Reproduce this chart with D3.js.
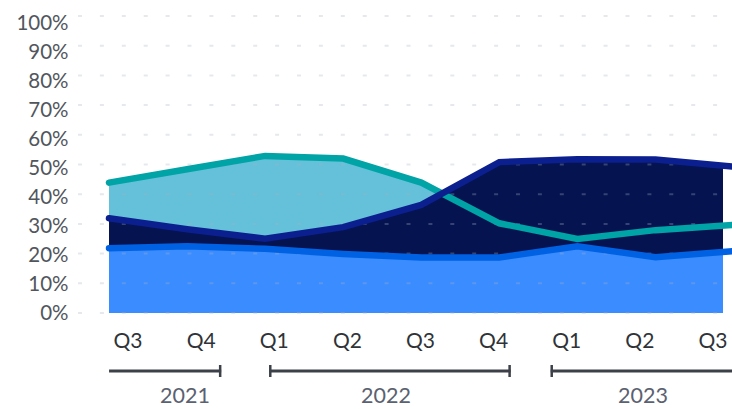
<!DOCTYPE html>
<html>
<head>
<meta charset="utf-8">
<script src="https://cdn.jsdelivr.net/npm/d3@7"></script>
<style>
  html, body { margin: 0; padding: 0; background: #ffffff; }
  svg { display: block; font-family: Lato, "Open Sans", sans-serif; }
</style>
</head>
<body>
<svg id="chart" width="732" height="409"></svg>
<script>
// Quarterly share by segment (percent)
const quarters = ["Q3", "Q4", "Q1", "Q2", "Q3", "Q4", "Q1", "Q2", "Q3"];
const years = ["2021", "2022", "2023"];
const yearOfQuarter = [0, 0, 1, 1, 1, 1, 2, 2, 2];
const tealValues = [43.9, 48.4, 52.9, 52.0, 43.9, 30.2, 24.9, 27.9, 29.7];
const navyValues = [31.9, 28.2, 25.0, 28.9, 36.4, 50.8, 51.8, 51.7, 49.3];
const blueValues = [21.8, 22.5, 21.6, 19.9, 18.7, 18.7, 22.5, 18.8, 20.8];
const yTicks = [0, 10, 20, 30, 40, 50, 60, 70, 80, 90, 100];

const svg = d3.select("#chart");
const W = 732, H = 409;

const idx = d3.range(quarters.length);
const x = d3.scaleLinear().domain([0, quarters.length - 1]).range([109, 733.5]);
const y = d3.scaleLinear().domain([0, 100]).range([313, 16]);
const yLabel = d3.scaleLinear().domain([0, 100]).range([313, 23]);
const xLabel = d3.scaleBand().domain(idx).range([91.5, 749.5]);

const series = [
  { values: tealValues, fill: "#64c1d9", stroke: "#00a3a6" },
  { values: navyValues, fill: "#051351", stroke: "#0b1f8e" },
  { values: blueValues, fill: "#3b8cff", stroke: "#0062e3" }
];

// clip for filled areas
svg.append("defs").append("clipPath").attr("id", "plotClip")
  .append("rect").attr("x", 0).attr("y", 0).attr("width", 723).attr("height", H);

const area = vals => d3.area()
  .x((d, i) => x(i)).y0(y(0)).y1(d => y(d))(vals);
const line = vals => d3.line()
  .x((d, i) => x(i)).y(d => y(d))(vals);

const areas = svg.append("g").attr("clip-path", "url(#plotClip)");
series.forEach(s => {
  areas.append("path").attr("d", area(s.values)).attr("fill", s.fill);
});

// dotted gridlines
svg.append("g").selectAll("line").data(yTicks).join("line")
  .attr("x1", 78).attr("x2", W)
  .attr("y1", d => y(d)).attr("y2", d => y(d))
  .attr("stroke", "rgba(170,180,195,0.3)")
  .attr("stroke-width", 2)
  .attr("stroke-dasharray", "4 17.9");

// series lines
series.forEach(s => {
  svg.append("path").attr("d", line(s.values))
    .attr("fill", "none").attr("stroke", s.stroke)
    .attr("stroke-width", 6.5)
    .attr("stroke-linejoin", "miter")
    .attr("stroke-linecap", "round");
});

// y axis labels
svg.append("g").selectAll("text").data(yTicks).join("text")
  .attr("x", 68.5).attr("y", d => yLabel(d)).attr("dy", "0.36em")
  .attr("text-anchor", "end")
  .attr("font-size", 20.5).attr("fill", "#51565d")
  .text(d => d + "%");

// quarter labels
svg.append("g").selectAll("text").data(idx).join("text")
  .attr("x", i => xLabel(i) + xLabel.bandwidth() / 2).attr("y", 348)
  .attr("text-anchor", "middle")
  .attr("font-size", 21).attr("fill", "#2f3338")
  .text(i => quarters[i]);

// year brackets
const bracketPad = [[-19, 20], [-5, 17], [-16, 40]];
const bracketTicks = [[false, true], [true, true], [true, false]];
const yearGroups = years.map((yr, k) => {
  const members = idx.filter(i => yearOfQuarter[i] === k);
  const c0 = xLabel(members[0]) + xLabel.bandwidth() / 2;
  const c1 = xLabel(members[members.length - 1]) + xLabel.bandwidth() / 2;
  return { yr, x0: c0 + bracketPad[k][0], x1: c1 + bracketPad[k][1], ticks: bracketTicks[k] };
});
const yb = 371;
const gb = svg.append("g").attr("stroke", "#3c4149");
yearGroups.forEach(g => {
  gb.append("line").attr("x1", g.x0).attr("x2", g.x1).attr("y1", yb).attr("y2", yb)
    .attr("stroke-width", 3);
  if (g.ticks[0]) gb.append("line").attr("x1", g.x0 + 1).attr("x2", g.x0 + 1)
    .attr("y1", yb - 6).attr("y2", yb + 6).attr("stroke-width", 2.5);
  if (g.ticks[1]) gb.append("line").attr("x1", g.x1 - 1).attr("x2", g.x1 - 1)
    .attr("y1", yb - 6).attr("y2", yb + 6).attr("stroke-width", 2.5);
});
const yearLabelX = [185, 386, 643];
svg.append("g").selectAll("text").data(yearGroups).join("text")
  .attr("x", (d, k) => yearLabelX[k]).attr("y", 403)
  .attr("text-anchor", "middle")
  .attr("font-size", 21.5).attr("fill", "#5a6170")
  .text(d => d.yr);
</script>
</body>
</html>
